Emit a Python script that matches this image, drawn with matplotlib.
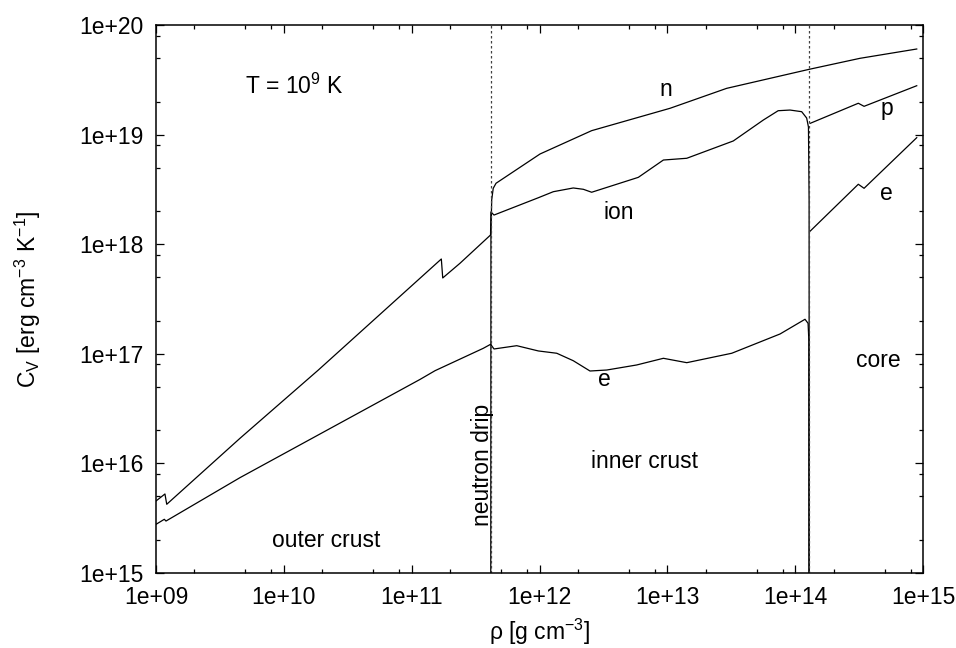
import numpy as np
import matplotlib
matplotlib.use("Agg")
import matplotlib.pyplot as plt
from matplotlib.ticker import FixedLocator, LogLocator, FuncFormatter, NullFormatter

plt.rcParams['font.family'] = ['Liberation Sans', 'DejaVu Sans']
plt.rcParams['mathtext.fontset'] = 'custom'
plt.rcParams['mathtext.rm'] = 'Liberation Sans'
plt.rcParams['mathtext.it'] = 'Liberation Sans:italic'

# values, as log10(rho [g/cm3]) and log10(C_V [erg/cm3/K])
# ions in the crust (drop to zero at the crust-core boundary)
lrho_ion = [9.000, 9.070, 9.084, 9.657, 10.270, 11.232, 11.243, 11.378, 11.617, 11.620,
            11.644, 11.991, 12.108, 12.264, 12.343, 12.408, 12.773, 12.969, 13.152, 13.516,
            13.751, 13.867, 13.960, 14.051, 14.090, 14.104, 14.109, 14.110]
lcv_ion = [15.657, 15.721, 15.627, 16.229, 16.852, 17.865, 17.692, 17.826, 18.084, 18.294,
           18.266, 18.424, 18.479, 18.513, 18.501, 18.474, 18.610, 18.768, 18.784, 18.942,
           19.133, 19.218, 19.224, 19.209, 19.151, 19.069, 18.4, 13.0]

# electrons in the crust
lrho_e = [9.000, 9.065, 9.078, 9.657, 11.065, 11.183, 11.560, 11.618, 11.644, 11.822,
          11.991, 12.135, 12.264, 12.395, 12.526, 12.760, 12.969, 13.152, 13.504, 13.882,
          14.077, 14.101, 14.107, 14.108]
lcv_e = [15.444, 15.490, 15.474, 15.870, 16.766, 16.846, 17.050, 17.087, 17.044, 17.074,
         17.026, 17.005, 16.937, 16.843, 16.852, 16.898, 16.959, 16.919, 17.005, 17.181,
         17.315, 17.278, 17.126, 13.0]

# neutrons (from neutron drip on)
lrho_n = [11.618, 11.620, 11.626, 11.638, 11.660, 12.004, 12.408, 13.021, 13.464, 14.111,
          14.507, 14.951]
lcv_n = [13.0, 18.084, 18.403, 18.510, 18.556, 18.823, 19.036, 19.240, 19.422, 19.596,
         19.696, 19.781]

# protons and electrons in the core
lrho_core = [14.118, 14.494, 14.539, 14.951]
lcv_p = [19.103, 19.286, 19.258, 19.446]
lcv_ecore = [18.120, 18.547, 18.510, 18.972]

rho_drip = 10**11.618
rho_cc = 10**14.110

fig = plt.figure(figsize=(9.56, 6.48), dpi=100)
ax = fig.add_axes([156/956, 1 - 573/648, (923 - 156)/956, (573 - 25)/648])

lw = 0.9
ax.plot(10**np.array(lrho_ion), 10**np.array(lcv_ion), color='k', lw=lw)
ax.plot(10**np.array(lrho_e), 10**np.array(lcv_e), color='k', lw=lw)
ax.plot(10**np.array(lrho_n), 10**np.array(lcv_n), color='k', lw=lw)
ax.plot(10**np.array(lrho_core), 10**np.array(lcv_p), color='k', lw=lw)
ax.plot(10**np.array(lrho_core), 10**np.array(lcv_ecore), color='k', lw=lw)

ax.axvline(rho_drip, color='0.25', lw=0.9, ls=(0, (2, 2)))
ax.axvline(rho_cc, color='0.25', lw=0.9, ls=(0, (2, 2)))

ax.set_xscale('log')
ax.set_yscale('log')
ax.set_xlim(1e9, 1e15)
ax.set_ylim(1e15, 1e20)

fmt = FuncFormatter(lambda v, p: f"{v:.0e}")
ax.xaxis.set_major_locator(FixedLocator([10.0**k for k in range(9, 16)]))
ax.yaxis.set_major_locator(FixedLocator([10.0**k for k in range(15, 21)]))
ax.xaxis.set_major_formatter(fmt)
ax.yaxis.set_major_formatter(fmt)
ax.xaxis.set_minor_locator(LogLocator(base=10, subs=[2, 5, 8], numticks=20))
ax.yaxis.set_minor_locator(LogLocator(base=10, subs=[2, 5, 8], numticks=20))
ax.xaxis.set_minor_formatter(NullFormatter())
ax.yaxis.set_minor_formatter(NullFormatter())
ax.tick_params(which='both', direction='in', top=True, right=True, labelsize=16.5, width=0.9)
ax.tick_params(which='major', length=6, pad=9)
ax.tick_params(which='minor', length=3)
for s in ax.spines.values():
    s.set_linewidth(1.1)

fs = 16.5
ax.set_xlabel(r'ρ [g cm$^{\mathregular{-3}}$]', fontsize=fs, labelpad=6)
ax.set_ylabel(r'C$_{\mathregular{V}}$ [erg cm$^{\mathregular{-3}}$ K$^{\mathregular{-1}}$]', fontsize=fs, labelpad=26)

ax.text(10**9.696, 10**19.443, r'T = 10$^{\mathregular{9}}$ K', fontsize=fs, ha='left', va='center')
ax.text(10**12.990, 10**19.407, 'n', fontsize=fs, ha='center', va='center')
ax.text(10**14.716, 10**19.240, 'p', fontsize=fs, ha='center', va='center')
ax.text(10**14.716, 10**18.464, 'e', fontsize=fs, ha='center', va='center')
ax.text(10**12.622, 10**18.291, 'ion', fontsize=fs, ha='center', va='center')
ax.text(10**12.507, 10**16.770, 'e', fontsize=fs, ha='center', va='center')
ax.text(10**10.330, 10**15.301, 'outer crust', fontsize=fs, ha='center', va='center')
ax.text(10**12.825, 10**16.013, 'inner crust', fontsize=fs, ha='center', va='center')
ax.text(10**14.648, 10**16.943, 'core', fontsize=fs, ha='center', va='center')
ax.text(10**11.558, 10**15.985, 'neutron drip', fontsize=fs, ha='center', va='center', rotation=90)

fig.savefig('out.png', dpi=100)
